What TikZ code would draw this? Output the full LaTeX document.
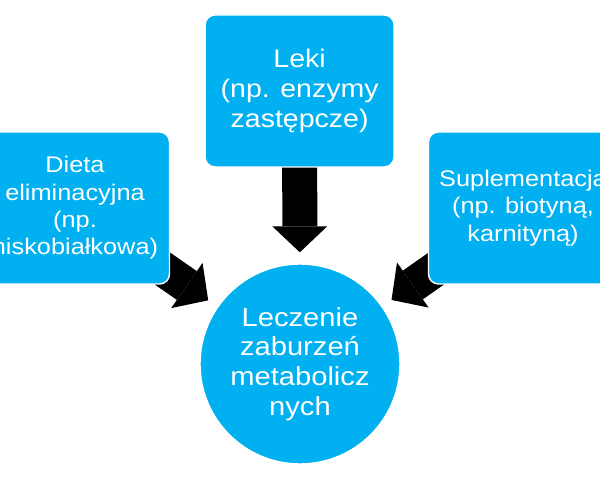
\documentclass[tikz,border=0pt]{standalone}
\usepackage{fontspec}
\setmainfont{Liberation Sans}[FakeStretch=1.12]
\usetikzlibrary{arrows.meta,backgrounds}
\definecolor{niebieski}{RGB}{0,176,240}

\begin{document}
\begin{tikzpicture}[
    pole/.style={rectangle, rounded corners=0.25cm, fill=niebieski, draw=white, line width=1pt,
        minimum width=4.725cm, minimum height=3.8cm, inner sep=0pt, align=center, text=white},
    krag/.style={circle, fill=niebieski, draw=white, line width=1pt,
        minimum size=5cm, inner sep=0pt, align=center, text=white},
    strzalka/.style={line width=0.875cm, -{Triangle[width=1.375cm,length=0.65cm,line width=0pt]},
        shorten >=0.275cm}
]
            \useasboundingbox (0,0) rectangle (15,12); % marco
            \node[pole, font=\fontsize{18.1}{21.3}\selectfont] (leki) at (7.49,9.725)
                {Leki\\(np. enzymy\\zastępcze)};
            \node[pole, font=\fontsize{16.1}{19.4}\selectfont] (dieta) at (1.875,6.8)
                {Dieta\\eliminacyjna\\(np.\\niskobiałkowa)};
            \node[pole, font=\fontsize{16.1}{19.4}\selectfont] (suplementy) at (13.075,6.8)
                {Suplementacja\\(np. biotyną,\\karnityną)};
            \node[krag, font=\fontsize{18.5}{21}\selectfont] (leczenie) at (7.5,2.9)
                {Leczenie\\zaburzeń\\metabolicz\\nych};
            \begin{scope}[on background layer]
            \draw[strzalka, shorten <=-0.3cm] (leki) -- (leczenie); % w dol
            \draw[strzalka, shorten <=-0.6cm] (dieta) -- (leczenie);
            \draw[strzalka, shorten <=-0.6cm] (suplementy) -- (leczenie);
            \end{scope}
\end{tikzpicture}
\end{document}
